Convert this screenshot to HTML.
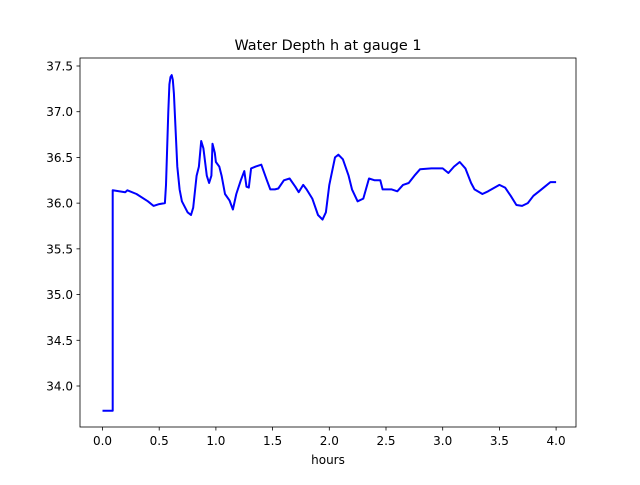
<!DOCTYPE html>
<html><head><meta charset="utf-8"><style>
body{margin:0;background:#fff}
svg text{font-family:"DejaVu Sans","Liberation Sans",sans-serif;fill:#000}
</style></head><body>
<svg id="chart" width="640" height="480" viewBox="0 0 640 480" xmlns="http://www.w3.org/2000/svg">
<rect width="640" height="480" fill="#fff"/>
<text x="328" y="50" text-anchor="middle" font-size="14.4">Water Depth h at gauge 1</text>
<text x="328" y="464" text-anchor="middle" font-size="12">hours</text>
<g id="xt"></g><g id="yt"></g>
<path id="line" fill="none" stroke="#0000ff" stroke-width="2" stroke-linejoin="round"/>
<rect x="80" y="58" width="496" height="369" fill="none" stroke="#000" stroke-width="0.8"/>
</svg>
<script>
const hours=[0,0.09,0.0901,0.2,0.22,0.3,0.4,0.45,0.5,0.55,0.56,0.58,0.59,0.6,0.61,0.62,0.63,0.645,0.66,0.68,0.7,0.75,0.78,0.8,0.83,0.85,0.87,0.89,0.92,0.94,0.96,0.97,0.99,1.0,1.03,1.05,1.08,1.12,1.15,1.18,1.22,1.25,1.27,1.29,1.31,1.35,1.4,1.45,1.48,1.52,1.55,1.6,1.65,1.7,1.73,1.77,1.8,1.85,1.9,1.94,1.97,2.0,2.05,2.08,2.12,2.17,2.2,2.25,2.3,2.35,2.4,2.45,2.47,2.55,2.6,2.65,2.7,2.75,2.8,2.9,3.0,3.05,3.1,3.15,3.2,3.25,3.28,3.35,3.4,3.5,3.55,3.6,3.65,3.7,3.75,3.8,3.85,3.9,3.95,4.0];
const depth=[33.73,33.73,36.14,36.12,36.14,36.1,36.02,35.97,35.99,36.0,36.2,37.0,37.3,37.38,37.4,37.35,37.2,36.8,36.4,36.15,36.02,35.9,35.87,35.95,36.3,36.4,36.68,36.6,36.3,36.22,36.3,36.65,36.55,36.45,36.4,36.3,36.1,36.03,35.93,36.1,36.25,36.35,36.18,36.17,36.38,36.4,36.42,36.25,36.15,36.15,36.16,36.25,36.27,36.18,36.12,36.2,36.15,36.05,35.87,35.82,35.9,36.2,36.5,36.53,36.48,36.3,36.15,36.02,36.05,36.27,36.25,36.25,36.15,36.15,36.13,36.2,36.22,36.3,36.37,36.38,36.38,36.33,36.4,36.45,36.38,36.22,36.15,36.1,36.13,36.2,36.17,36.08,35.98,35.97,36.0,36.08,36.13,36.18,36.23,36.23];
const xTicks=[0,0.5,1,1.5,2,2.5,3,3.5,4];
const yTicks=[34,34.5,35,35.5,36,36.5,37,37.5];
const X=v=>102.5+v*113.4;
const Y=v=>386-(v-34)*91.43;
const ns="http://www.w3.org/2000/svg";
let d="";
hours.forEach((h,i)=>{d+=(i?"L":"M")+X(h).toFixed(1)+","+Y(depth[i]).toFixed(1);});
document.getElementById("line").setAttribute("d",d);
const xt=document.getElementById("xt"),yt=document.getElementById("yt");
xTicks.forEach(v=>{
  const l=document.createElementNS(ns,"line");
  
  
  l.setAttribute("x1",X(v));l.setAttribute("x2",X(v));l.setAttribute("y1",427);l.setAttribute("y2",430.5);l.setAttribute("stroke","#000");l.setAttribute("stroke-width","0.8");
  xt.appendChild(l);
  const t=document.createElementNS(ns,"text");
  
  
  t.setAttribute("x",X(v));t.setAttribute("y",445);t.setAttribute("text-anchor","middle");t.setAttribute("font-size","12");
  t.textContent=v.toFixed(1);xt.appendChild(t);
});
yTicks.forEach(v=>{
  const l=document.createElementNS(ns,"line");
  
  
  l.setAttribute("x1",76.5);l.setAttribute("x2",80);l.setAttribute("y1",Y(v));l.setAttribute("y2",Y(v));l.setAttribute("stroke","#000");l.setAttribute("stroke-width","0.8");
  yt.appendChild(l);
  const t=document.createElementNS(ns,"text");
  
  
  t.setAttribute("x",73);t.setAttribute("y",Y(v)+4.5);t.setAttribute("text-anchor","end");t.setAttribute("font-size","12");
  t.textContent=v.toFixed(1);yt.appendChild(t);
});
</script>
</body></html>
